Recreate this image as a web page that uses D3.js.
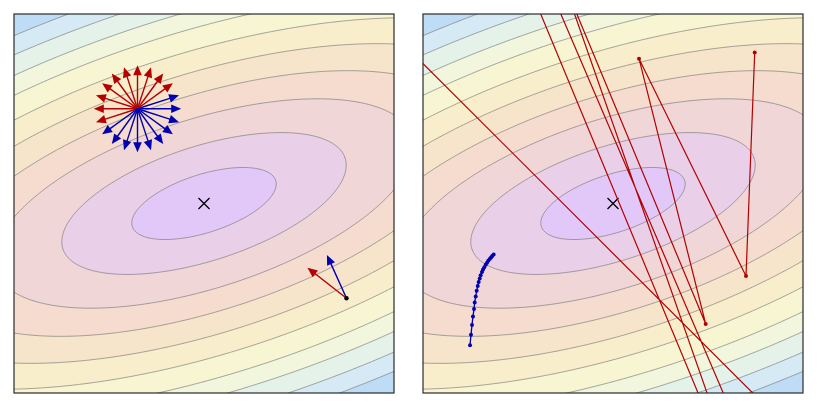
<!DOCTYPE html>
<html>
<head>
<meta charset="utf-8">
<script src="https://cdn.jsdelivr.net/npm/d3@7"></script>
<style>
	body { margin: 0; background: #fff; }
	svg { display: block; }
</style>
</head>
<body>
<div id="chart"></div>
<script>
// bowl q(x,y) = a*x^2 + 2*b*x*y + c*y^2, contours are drawn on sqrt(q)
const quadA = 0.25, quadB = -0.27, quadC = 1.0;
const levels = [0.32, 0.63, 0.93, 1.18, 1.42, 1.65, 1.88, 2.07, 2.27, 2.46];
const bandColors = ["#e2c8f8", "#e9d0e8", "#f1d6d8", "#f5dccf", "#f7e5cb", "#f8eecb",
	"#f8f5d3", "#f1f6dd", "#e5f2ea", "#d5eaf4", "#bedcf5"];
const minimum = [0, 0];

// left panel: directions around one point, and two directions at another
const fanCenter = [-0.7, 1.0];
const fanAngles = [0, 18, 36, 54, 72, 90, 108, 126, 144, 162, 180, 198, 216, 234, 252, 270, 288, 306, 324, 342];
const fanLength = 0.46;
const probePoint = [1.5, -1.0];
const probeBlue = [1.294, -0.543];
const probeRed = [1.089, -0.677];

// right panel: small step (blue) and large step (red)
const slowX = [-1.505, -1.495, -1.484, -1.474, -1.463, -1.456, -1.445, -1.435, -1.424, -1.414, -1.403,
	-1.393, -1.379, -1.368, -1.355, -1.340, -1.326, -1.313, -1.298, -1.284, -1.271, -1.256];
const slowY = [-1.497, -1.384, -1.282, -1.192, -1.114, -1.044, -0.981, -0.921, -0.872, -0.829, -0.792,
	-0.756, -0.724, -0.697, -0.672, -0.647, -0.626, -0.605, -0.587, -0.571, -0.553, -0.539];
const fastX = [1.4916, 1.4000, 0.2737, 0.9758, -0.5326, 1.4947, -7.3579, 3.4389, 3.0211, -3.2947];
const fastY = [1.5947, -0.7663, 1.5284, -1.2716, 2.3663, -3.4474, 17.9316, -7.3316, -3.5526, 2.7737];

const width = 821, height = 409,
		panelW = 380, panelH = 379,
		panelTop = 14,
		panelLefts = [14, 423];

const red = "#b30000", blue = "#0000b0";

const svg = d3.select('#chart')
	.append('svg')
		.attr('width', width)
		.attr('height', height)
		.style('background', 'white');

const x = d3.scaleLinear().domain([-2, 2]).range([0, panelW]);
const y = d3.scaleLinear().domain([-2, 2]).range([panelH, 0]);

const gVal = (px, py) => Math.sqrt(quadA * px * px + 2 * quadB * px * py + quadC * py * py);
const grad = (px, py) => [2 * (quadA * px + quadB * py), 2 * (quadB * px + quadC * py)];

// sample a grid a little wider than the panel so contour edges fall outside the clip
const step = 0.02, gridMin = -2.1, n = 210;
const values = new Array(n * n);
for (let j = 0; j < n; j++) {
	for (let i = 0; i < n; i++) {
		values[j * n + i] = gVal(gridMin + (i + 0.5) * step, -gridMin - (j + 0.5) * step);
	}
}
const contours = d3.contours().size([n, n]).thresholds(levels)(values);
const path = d3.geoPath(d3.geoTransform({
	point: function(cx, cy) {
		this.stream.point(x(gridMin + cx * step), y(-gridMin - cy * step));
	}
}));

const drawArrow = (g, from, to, color) => {
	const x0 = x(from[0]), y0 = y(from[1]), x1 = x(to[0]), y1 = y(to[1]);
	const len = Math.hypot(x1 - x0, y1 - y0),
			ux = (x1 - x0) / len, uy = (y1 - y0) / len,
			headL = 10, headW = 4.3;
	const bx = x1 - ux * headL, by = y1 - uy * headL;
	g.append('line')
		.attr('x1', x0).attr('y1', y0)
		.attr('x2', bx + ux).attr('y2', by + uy)
		.attr('stroke', color)
		.attr('stroke-width', 1.4);
	g.append('path')
		.attr('d', `M${x1},${y1}L${bx - uy * headW},${by + ux * headW}L${bx + uy * headW},${by - ux * headW}Z`)
		.attr('fill', color);
};

const panels = panelLefts.map((left, k) => {
	svg.append('clipPath')
		.attr('id', 'clip' + k)
		.append('rect')
			.attr('width', panelW)
			.attr('height', panelH);

	const g = svg.append('g')
		.attr('transform', `translate(${left},${panelTop})`);
	const inner = g.append('g')
		.attr('clip-path', `url(#clip${k})`);

	inner.append('rect')
		.attr('width', panelW)
		.attr('height', panelH)
		.attr('fill', bandColors[0]);

	inner.selectAll('.band')
		.data(contours)
		.enter()
		.append('path')
			.attr('class', 'band')
			.attr('d', path)
			.attr('fill', (d, i) => bandColors[i + 1]);

	inner.selectAll('.iso')
		.data(contours)
		.enter()
		.append('path')
			.attr('class', 'iso')
			.attr('d', path)
			.attr('fill', 'none')
			.attr('stroke', '#7a7a7a')
			.attr('stroke-opacity', 0.85)
			.attr('stroke-width', 0.8);

	// minimum marker
	const mx = x(minimum[0]), my = y(minimum[1]), s = 5.5;
	inner.append('path')
		.attr('d', `M${mx - s},${my - s}L${mx + s},${my + s}M${mx - s},${my + s}L${mx + s},${my - s}`)
		.attr('stroke', '#000')
		.attr('stroke-width', 1.3);

	return {g: g, inner: inner};
});

// left panel arrows
const left = panels[0].inner;
const gc = grad(fanCenter[0], fanCenter[1]);
fanAngles.forEach(function(a) {
	const rad = a * Math.PI / 180,
			dx = Math.cos(rad), dy = Math.sin(rad);
	const color = (dx * gc[0] + dy * gc[1]) > 0 ? red : blue;
	drawArrow(left, fanCenter, [fanCenter[0] + fanLength * dx, fanCenter[1] + fanLength * dy], color);
});

drawArrow(left, probePoint, probeRed, red);
drawArrow(left, probePoint, probeBlue, blue);
left.append('circle')
	.attr('cx', x(probePoint[0]))
	.attr('cy', y(probePoint[1]))
	.attr('r', 2.2)
	.attr('fill', '#000');

// right panel paths
const right = panels[1].inner;
const line = d3.line()
	.x(d => x(d[0]))
	.y(d => y(d[1]));

const fast = fastX.map((v, i) => [v, fastY[i]]);
const slow = slowX.map((v, i) => [v, slowY[i]]);

right.append('path')
	.datum(fast)
	.attr('d', line)
	.attr('fill', 'none')
	.attr('stroke', red)
	.attr('stroke-width', 1.2);

right.selectAll('.fastdot')
	.data(fast)
	.enter()
	.append('circle')
		.attr('class', 'fastdot')
		.attr('cx', d => x(d[0]))
		.attr('cy', d => y(d[1]))
		.attr('r', 2)
		.attr('fill', red);

right.append('path')
	.datum(slow)
	.attr('d', line)
	.attr('fill', 'none')
	.attr('stroke', blue)
	.attr('stroke-width', 1.3);

right.selectAll('.slowdot')
	.data(slow)
	.enter()
	.append('circle')
		.attr('class', 'slowdot')
		.attr('cx', d => x(d[0]))
		.attr('cy', d => y(d[1]))
		.attr('r', 2)
		.attr('fill', blue);

// frames on top
panels.forEach(function(p) {
	p.g.append('rect')
		.attr('width', panelW)
		.attr('height', panelH)
		.attr('fill', 'none')
		.attr('stroke', '#2b2b2b')
		.attr('stroke-width', 1.2);
});
</script>
</body>
</html>
